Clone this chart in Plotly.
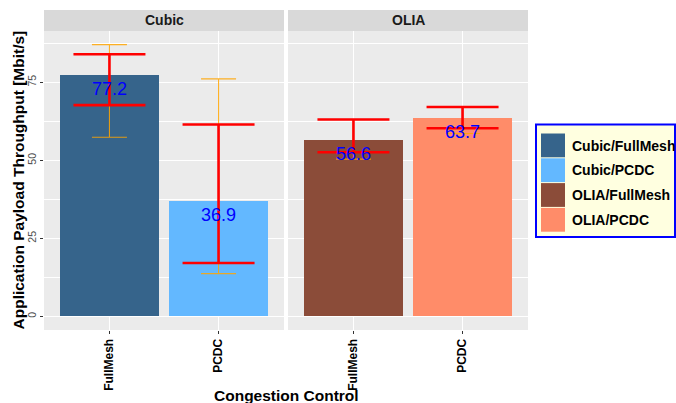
import plotly.graph_objects as go

# ---------------- data ----------------
congestion = ["Cubic", "Cubic", "OLIA", "OLIA"]
topology = ["FullMesh", "PCDC", "FullMesh", "PCDC"]
series_names = ["Cubic/FullMesh", "Cubic/PCDC", "OLIA/FullMesh", "OLIA/PCDC"]
mean_tput = [77.2, 36.9, 56.6, 63.7]
red_low = [67.7, 17.1, 52.6, 60.3]
red_high = [84.0, 61.5, 63.1, 67.1]
orange_low = [57.4, 13.7, 50.4, 58.6]
orange_high = [87.1, 76.1, 63.1, 67.1]
bar_colors = ["#36648B", "#63B8FF", "#8B4C39", "#FF8C69"]
panels = ["Cubic", "OLIA"]
y_ticks = [0, 25, 50, 75]
y_minor = [12.5, 37.5, 62.5, 87.5]

# ---------------- layout geometry ----------------
W, H = 676, 403
L, R, T, B = 44, 148, 31, 73
PW, PH = W - L - R, H - T - B
FONT = "Liberation Sans, Arial, Helvetica, sans-serif"


def px_x(px):
    return (px - L) / PW


def px_y(py):
    return (H - B - py) / PH


gap = 4 / PW
domains = [[0, 0.5 - gap / 2], [0.5 + gap / 2, 1]]

ymax = max(orange_high)
yrange = [-0.05 * ymax, 1.05 * ymax]

fig = go.Figure()
shapes = []
annotations = []

for p_i, panel in enumerate(panels):
    idx = [i for i, c in enumerate(congestion) if c == panel]
    xa = "x" if p_i == 0 else "x2"
    ya = "y" if p_i == 0 else "y2"
    xs = [topology[i] for i in idx]
    ms = [mean_tput[i] for i in idx]
    fig.add_trace(go.Bar(
        x=xs, y=ms, width=0.9,
        marker=dict(color=[bar_colors[i] for i in idx], line=dict(width=0)),
        xaxis=xa, yaxis=ya, showlegend=False, hoverinfo="skip",
    ))
    # orange error bars
    fig.add_trace(go.Scatter(
        x=xs, y=ms, mode="markers", marker=dict(size=1, opacity=0),
        error_y=dict(type="data", symmetric=False,
                     array=[orange_high[i] - mean_tput[i] for i in idx],
                     arrayminus=[mean_tput[i] - orange_low[i] for i in idx],
                     color="rgba(255,165,0,0.85)", thickness=1.1, width=17.5),
        xaxis=xa, yaxis=ya, showlegend=False, hoverinfo="skip",
    ))
    # red error bars
    fig.add_trace(go.Scatter(
        x=xs, y=ms, mode="markers", marker=dict(size=1, opacity=0),
        error_y=dict(type="data", symmetric=False,
                     array=[red_high[i] - mean_tput[i] for i in idx],
                     arrayminus=[mean_tput[i] - red_low[i] for i in idx],
                     color="#FF0000", thickness=2.6, width=36),
        xaxis=xa, yaxis=ya, showlegend=False, hoverinfo="skip",
    ))
    for i in idx:
        annotations.append(dict(
            x=topology[i], y=mean_tput[i], xref=xa, yref=ya,
            text=f"{mean_tput[i]:.1f}", showarrow=False, yshift=-14,
            font=dict(family=FONT, size=18, color="#0000FF"),
        ))
    # panel background
    shapes.append(dict(type="rect", xref=f"{xa} domain", yref=f"{ya} domain",
                       x0=0, x1=1, y0=0, y1=1, fillcolor="#EBEBEB",
                       line=dict(width=0), layer="below"))
    # strip
    shapes.append(dict(type="rect", xref=f"{xa} domain", yref="paper",
                       x0=0, x1=1, y0=1, y1=1 + 21 / PH, fillcolor="#D9D9D9",
                       line=dict(width=0), layer="below"))
    annotations.append(dict(
        x=0.5, y=1 + 10.5 / PH, xref=f"{xa} domain", yref="paper",
        text=panel, showarrow=False, xanchor="center", yanchor="middle",
        font=dict(family=FONT, size=14, color="#1A1A1A", weight=700),
    ))

axis_common = dict(
    showgrid=True, gridcolor="white", gridwidth=1.2, zeroline=False,
    ticks="outside", ticklen=3, tickcolor="#333333", tickwidth=1,
    showline=False,
)

fig.update_layout(
    width=W, height=H, autosize=False,
    margin=dict(l=L, r=R, t=T, b=B, pad=0),
    paper_bgcolor="white", plot_bgcolor="white",
    font=dict(family=FONT),
    bargap=0,
    xaxis=dict(domain=domains[0], anchor="y", type="category",
               range=[-0.6, 1.6], tickangle=-90,
               tickfont=dict(family=FONT, size=12, color="black", weight=700),
               **axis_common),
    xaxis2=dict(domain=domains[1], anchor="y2", type="category",
                range=[-0.6, 1.6], tickangle=-90,
                tickfont=dict(family=FONT, size=12, color="black", weight=700),
                **axis_common),
    yaxis=dict(domain=[0, 1], anchor="x", range=yrange, tickvals=y_ticks,
               tickangle=-90,
               tickfont=dict(family=FONT, size=10.5, color="#4D4D4D"),
               minor=dict(tickvals=y_minor, showgrid=True, gridcolor="white",
                          gridwidth=0.6, ticks=""),
               **axis_common),
    yaxis2=dict(domain=[0, 1], anchor="x2", range=yrange, tickvals=y_ticks,
                matches="y", showticklabels=False,
                minor=dict(tickvals=y_minor, showgrid=True, gridcolor="white",
                           gridwidth=0.6, ticks=""),
                showgrid=True, gridcolor="white", gridwidth=1.2, zeroline=False,
                ticks=""),
)

# axis titles
annotations.append(dict(
    x=0.5, y=px_y(395), xref="paper", yref="paper",
    text="Congestion Control", showarrow=False, xanchor="center", yanchor="middle",
    font=dict(family=FONT, size=15.5, color="black", weight=700),
))
annotations.append(dict(
    x=px_x(18), y=0.5, xref="paper", yref="paper", textangle=-90,
    text="Application Payload Throughput [Mbit/s]", showarrow=False,
    xanchor="center", yanchor="middle",
    font=dict(family=FONT, size=15.5, color="black", weight=700),
))

# legend (drawn manually to match ggplot key sizes)
shapes.append(dict(type="rect", xref="paper", yref="paper",
                   x0=px_x(536), x1=px_x(675), y0=px_y(237), y1=px_y(124.5),
                   fillcolor="#FFFFE0", line=dict(color="#0000FF", width=2)))
for k, name in enumerate(series_names):
    top = 133.5 + 24.8 * k
    shapes.append(dict(type="rect", xref="paper", yref="paper",
                       x0=px_x(541), x1=px_x(565), y0=px_y(top + 23.8), y1=px_y(top),
                       fillcolor=bar_colors[k], line=dict(width=0)))
    annotations.append(dict(
        x=px_x(570), y=px_y(top + 12), xref="paper", yref="paper",
        text=name, showarrow=False, xanchor="left", yanchor="middle",
        font=dict(family=FONT, size=14, color="black", weight=700),
    ))

fig.update_layout(shapes=shapes, annotations=annotations)
fig.write_html("out.html")
